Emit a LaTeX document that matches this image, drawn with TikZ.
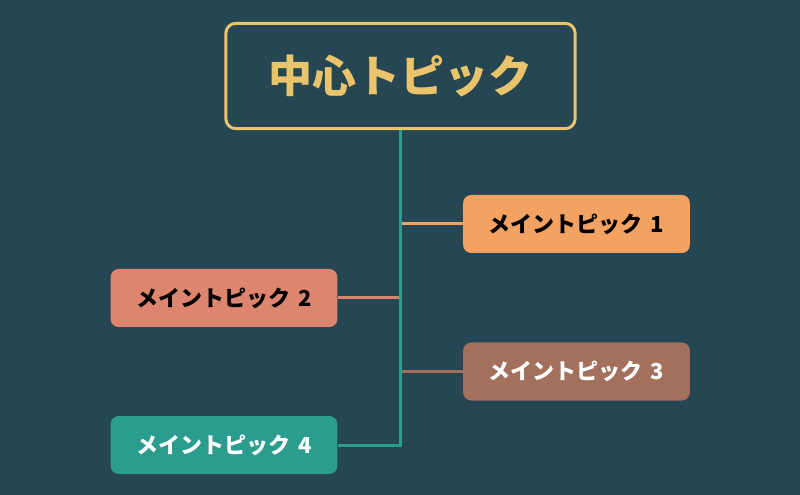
\documentclass[tikz,border=0pt]{standalone}
\usepackage{fontspec}
\setmainfont{Noto Sans CJK JP}
\definecolor{bgdark}{HTML}{264653}
\definecolor{gold}{HTML}{E9C46A}
\definecolor{sand}{HTML}{F4A261}
\definecolor{salmon}{HTML}{DE8570}
\definecolor{clay}{HTML}{A3705B}
\definecolor{teal}{HTML}{2A9D8F}
\tikzset{
  centerbox/.style={draw=gold, line width=2.25pt, rounded corners=7.5pt,
    minimum width=262pt, minimum height=79pt, inner sep=0pt,
    text=gold, font=\bfseries\fontsize{33}{38}\selectfont},
  topicbox/.style={rounded corners=6pt, minimum width=170pt, minimum height=43.5pt,
    inner sep=0pt, font=\bfseries\fontsize{16.5}{20}\selectfont},
  branch/.style={line width=2.25pt},
}
\begin{document}
\begin{tikzpicture}[x=0.75pt,y=-0.75pt]
  \fill[bgdark] (0,0) rectangle (800,495);
  \useasboundingbox (0,0) rectangle (800,495);

  \node[centerbox] (center) at (400.5,76) {中心トピック};
  \node[topicbox, fill=sand, text=black] (t1) at (576.5,224) {メイントピック\hspace{0.35em}1};
  \node[topicbox, fill=salmon, text=black] (t2) at (224,298) {メイントピック\hspace{0.35em}2};
  \node[topicbox, fill=clay, text=white] (t3) at (576.5,371.5) {メイントピック\hspace{0.35em}3};
  \node[topicbox, fill=teal, text=white] (t4) at (224,445) {メイントピック\hspace{0.35em}4};

  % trunk and branches
  \coordinate (trunkend) at (center.south |- t4.east);
  \draw[branch, sand] (t1.west) -- (t1.west -| center.south);
  \draw[branch, salmon] (t2.east) -- (t2.east -| center.south);
  \draw[branch, clay] (t3.west) -- (t3.west -| center.south);
  \draw[branch, teal, line join=miter] (center.south) -- (trunkend) -- (t4.east);
\end{tikzpicture}
\end{document}
